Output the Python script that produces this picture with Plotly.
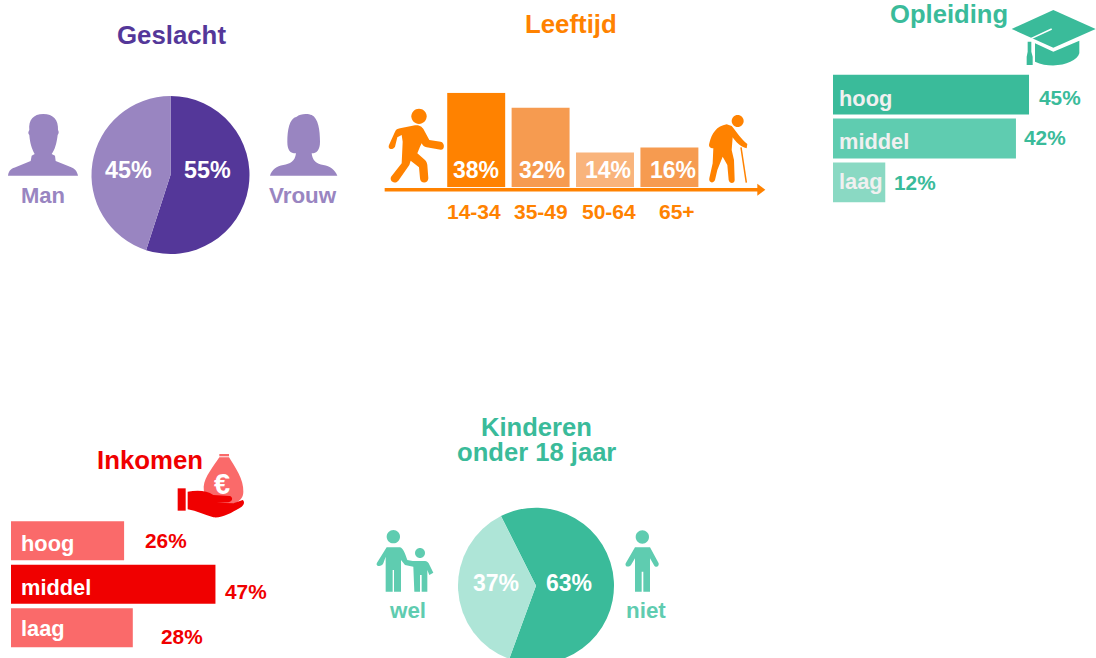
import re
import plotly.graph_objects as go

# ---------- data ----------
gender_labels = ["Vrouw", "Man"]
gender_values = [55, 45]
age_labels = ["14-34", "35-49", "50-64", "65+"]
age_values = [38, 32, 14, 16]
edu_labels = ["hoog", "middel", "laag"]
edu_values = [45, 42, 12]
income_labels = ["hoog", "middel", "laag"]
income_values = [26, 47, 28]
kids_labels = ["niet", "wel"]
kids_values = [63, 37]

# ---------- style ----------
W, H = 1096, 664
FONT = "Liberation Sans"
PURPLE, PURPLE_L = "#543799", "#9985C1"
ORANGE = "#FF8200"
ORANGE_SHADES = ["#FF8200", "#F69B50", "#F9B47C", "#F69B50"]
TEAL, TEAL_M, TEAL_L, TEAL_XL = "#3ABB9A", "#5FCCB0", "#8AD9C3", "#AEE5D7"
RED, RED_L = "#F00000", "#FA6A6A"


def dom_x(a, b):
    return [a / W, b / W]


def dom_y(top, bottom):
    return [1 - bottom / H, 1 - top / H]


fig = go.Figure()

# pies
fig.add_trace(go.Pie(labels=gender_labels, values=gender_values, sort=False, direction="clockwise",
                     rotation=0, textinfo="none", marker=dict(colors=[PURPLE, PURPLE_L], line=dict(width=0)),
                     domain=dict(x=dom_x(91.5, 249.5), y=dom_y(96, 254)), showlegend=False))
fig.add_trace(go.Pie(labels=kids_labels, values=kids_values, sort=False, direction="clockwise",
                     rotation=333.3, textinfo="none", marker=dict(colors=[TEAL, TEAL_XL], line=dict(width=0)),
                     domain=dict(x=dom_x(458, 614), y=dom_y(507.7, 663.7)), showlegend=False))

# age columns
fig.add_trace(go.Bar(x=age_labels, y=age_values, width=0.9, marker=dict(color=ORANGE_SHADES, line=dict(width=0)),
                     xaxis="x", yaxis="y", showlegend=False))
# education bars
fig.add_trace(go.Bar(y=edu_labels, x=edu_values, orientation="h", width=0.91,
                     marker=dict(color=[TEAL, TEAL_M, TEAL_L], line=dict(width=0)),
                     xaxis="x2", yaxis="y2", showlegend=False))
# income bars
fig.add_trace(go.Bar(y=income_labels, x=income_values, orientation="h", width=0.9,
                     marker=dict(color=[RED_L, RED, RED_L], line=dict(width=0)),
                     xaxis="x3", yaxis="y3", showlegend=False))
# empty trace holding the pixel overlay axes for annotations and icons
fig.add_trace(go.Scatter(x=[], y=[], xaxis="x4", yaxis="y4", showlegend=False))

anns = []


def text(s, x, y, size, color, anchor="center"):
    anns.append(dict(text=f"<b>{s}</b>", x=x, y=y, xref="x4", yref="y4", xanchor=anchor, yanchor="middle",
                     showarrow=False, font=dict(family=FONT, size=size, color=color),
                     borderpad=0, borderwidth=0))


# titles
text("Geslacht", 171.5, 34.5, 25.8, PURPLE)
text("Leeftijd", 570.5, 24, 25.8, ORANGE)
text("Opleiding", 948.5, 14, 25.6, TEAL)
text("Inkomen", 150, 460, 25.8, RED)
text("Kinderen", 536.5, 427, 25.6, TEAL)
text("onder 18 jaar", 536.5, 452, 25.6, TEAL)

# gender labels
text(f"{gender_values[0]}%", 207, 170, 23.3, "white")
text(f"{gender_values[1]}%", 128, 170, 23.3, "white")
text(gender_labels[1], 43, 195, 22, PURPLE_L)
text(gender_labels[0], 303.3, 195, 22.4, PURPLE_L)

# kids labels
text(f"{kids_values[0]}%", 569, 582.5, 23, "white")
text(f"{kids_values[1]}%", 495.7, 583, 23, "white")
text(kids_labels[1], 407.3, 610, 22.4, TEAL_M)
text(kids_labels[0], 646, 610, 22.4, TEAL_M)

# age labels
for v, lab, xv, xl in zip(age_values, age_labels, [475.7, 541.7, 607.7, 673.3], [473.5, 541, 609, 677]):
    text(f"{v}%", xv, 169.5, 23, "white")
    text(lab, xl, 211, 21, ORANGE)

# education labels
for lab, yl, v, xv, yv in zip(edu_labels, [98, 141.5, 181], edu_values, [1060, 1045, 914.8], [97.5, 137.5, 182.5]):
    text(lab, 839, yl, 21.8, "#F0F0F0", "left")
    text(f"{v}%", xv, yv, 20.8, TEAL)

# income labels
for lab, yl, v, xv, yv in zip(income_labels, [543, 587.5, 628], income_values, [166, 245.8, 181.5], [540, 591, 636]):
    text(lab, 21, yl, 21.8, "white", "left")
    text(f"{v}%", xv, yv, 20.8, RED)

text("€", 221.7, 484, 29, "white")


# ---------- icons, traced in 3x crop coordinates ----------
def P(d, ox, oy):
    out, i = [], 0

    def rep(m):
        nonlocal i
        v = float(m.group(0)) / 3
        v += ox if i % 2 == 0 else oy
        i += 1
        return f"{v:.2f}"

    return re.sub(r"-?\d+(?:\.\d+)?", rep, d)


def circle(cx, cy, r):
    return f"M{cx - r},{cy} C{cx - r},{cy - r * .55} {cx - r * .55},{cy - r} {cx},{cy - r} C{cx + r * .55},{cy - r} {cx + r},{cy - r * .55} {cx + r},{cy} C{cx + r},{cy + r * .55} {cx + r * .55},{cy + r} {cx},{cy + r} C{cx - r * .55},{cy + r} {cx - r},{cy + r * .55} {cx - r},{cy} Z"


shapes = []


def icon(d, ox, oy, color, layer="above"):
    shapes.append(dict(type="path", path=P(d, ox, oy), xref="x4", yref="y4", fillcolor=color,
                       line=dict(width=0), layer=layer))


def stroke(d, ox, oy, color, w):
    shapes.append(dict(type="path", path=P(d, ox, oy), xref="x4", yref="y4",
                       line=dict(width=w, color=color), layer="above"))


# age-axis arrow
stroke("M44,569 L1168,569", 370, 0, ORANGE, 3.5)
icon("M1162,551 L1186,569 L1162,587 Z", 370, 0, ORANGE)

# man
icon("M24,527 C26,510 35,505 50,500 L92,483 L95,467 L104,462 C95,445 90,430 88,405 C83,400 85,395 88,390 "
     "C85,360 100,342 130,342 C160,342 176,360 174,390 C177,395 177,400 173,405 C170,430 165,448 155,462 "
     "L165,467 L167,483 L210,500 C225,505 232,515 234,527 Z", 0, 0, PURPLE_L)
# woman
icon("M810,527 C815,510 830,498 850,495 C870,492 885,485 888,460 C870,460 862,450 862,425 C862,390 868,355 890,350 "
     "C900,340 925,340 935,345 C955,355 960,390 960,425 C960,450 950,460 935,460 C937,482 950,492 970,495 "
     "C990,498 1005,510 1012,527 Z", 0, 0, PURPLE_L)
# walker
icon(circle(147, 349, 23), 370, 0, ORANGE)
icon("M57,435 L75,395 C78,388 82,387 90,385 L135,376 C150,374 158,382 163,392 L178,420 L212,425 C225,428 225,450 212,449 "
     "L170,442 C163,441 158,436 155,430 L150,440 L142,460 L165,480 C170,485 171,490 172,495 L175,535 C175,552 150,552 150,535 "
     "L147,502 L122,482 L118,495 L85,542 C72,556 55,540 65,528 L95,490 L98,425 L95,405 L82,412 L75,440 C68,452 52,448 57,435 Z",
     370, 0, ORANGE)
# old man with cane
icon(circle(1103, 363, 18), 370, 0, ORANGE)
icon("M1070,373 L1085,378 C1100,395 1115,420 1132,432 L1130,445 C1110,440 1097,425 1088,412 L1085,450 L1092,480 L1094,540 "
     "C1094,552 1078,552 1076,540 L1072,495 L1058,470 L1042,510 L1035,540 C1030,552 1015,548 1018,535 L1028,490 L1030,445 "
     "C1020,445 1015,440 1018,430 C1025,400 1040,378 1070,373 Z", 370, 0, ORANGE)
stroke("M1113,442 L1129,548", 370, 0, ORANGE, 1.5)
# graduation cap
icon("M700,30 L827,87 L700,143 L575,87 Z", 820, 0, TEAL)
icon("M645,130 L700,155 L778,122 L778,160 C770,190 700,210 645,185 Z", 820, 0, TEAL)
stroke("M695,87 L628,118", 820, 0, "white", 1.5)
icon("M623,125 L634,125 L634,155 L638,170 L638,195 L620,195 L620,170 L623,155 Z", 820, 0, TEAL)
# money bag and hand
icon("M658,42 L687,42 L687,49 L658,49 Z", 0, 440, RED_L)
icon("M658,52 L687,52 C705,80 732,120 730,155 C730,185 700,195 670,195 C630,195 610,170 611,140 C614,110 640,80 658,52 Z",
     0, 440, RED_L)
icon("M533,145 L557,145 L557,212 L533,212 Z", 0, 440, RED)
icon("M563,155 C590,150 620,150 640,165 L690,168 C700,172 698,185 685,187 L650,188 L700,190 L728,180 C735,185 732,195 725,200 "
     "C700,215 670,235 640,232 C615,225 590,212 563,208 Z", 0, 440, RED)
# adult with child
icon(circle(70, 380, 20), 370, 410, TEAL_M)
icon(circle(150, 429, 15), 370, 410, TEAL_M)
icon("M50,412 L90,412 C100,415 105,430 112,450 L128,453 L165,453 C170,453 174,456 176,460 L190,488 L178,495 L172,480 L172,545 "
     "L155,545 L155,495 L150,495 L150,545 L133,545 L130,470 L105,465 L93,450 L93,545 L72,545 L72,480 L68,480 L68,545 L47,545 "
     "L47,440 L40,460 C35,472 15,470 21,458 Z", 370, 410, TEAL_M)
# single person
icon(circle(817, 381, 20), 370, 410, TEAL_M)
icon("M795,412 L840,412 L866,460 C868,472 855,475 850,462 L840,445 L840,545 L820,545 L820,485 L815,485 L815,545 L795,545 "
     "L795,445 L783,465 C775,475 762,468 768,458 Z", 370, 410, TEAL_M)

hidden = dict(visible=False, fixedrange=True)
fig.update_layout(
    width=W, height=H, autosize=False, margin=dict(l=0, r=0, t=0, b=0, pad=0),
    paper_bgcolor="white", plot_bgcolor="rgba(0,0,0,0)", showlegend=False, hovermode=False,
    bargap=0.1, font=dict(family=FONT),
    xaxis=dict(domain=dom_x(444, 701.6), range=[-0.5, 3.5], type="category", anchor="y", **hidden),
    yaxis=dict(domain=dom_y(92.7, 187.3), range=[0, 38], anchor="x", **hidden),
    xaxis2=dict(domain=dom_x(833, 1050.8), range=[0, 50], anchor="y2", **hidden),
    yaxis2=dict(domain=dom_y(72.75, 204.25), range=[2.5, -0.5], type="category", anchor="x2", **hidden),
    xaxis3=dict(domain=dom_x(11, 228.5), range=[0, 50], anchor="y3", **hidden),
    yaxis3=dict(domain=dom_y(519, 649.5), range=[2.5, -0.5], type="category", anchor="x3", **hidden),
    xaxis4=dict(domain=[0, 1], range=[0, W], anchor="y4", **hidden),
    yaxis4=dict(domain=[0, 1], range=[H, 0], anchor="x4", **hidden),
    annotations=anns, shapes=shapes,
)

fig.write_html("out.html", config=dict(displayModeBar=False),
               post_script="document.body.style.margin='0';document.documentElement.style.overflow='hidden';document.body.style.overflow='hidden';")
